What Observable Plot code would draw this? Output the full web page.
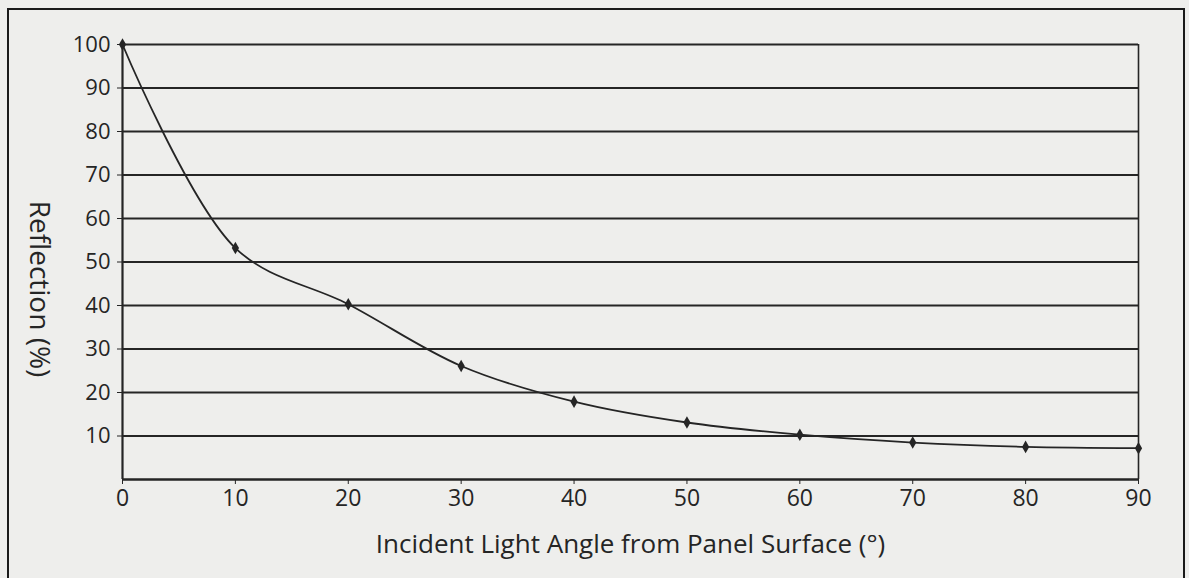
<!DOCTYPE html>
<html>
<head>
<meta charset="utf-8">
<script src="https://cdn.jsdelivr.net/npm/d3@7"></script>
<script src="https://cdn.jsdelivr.net/npm/@observablehq/plot@0.6"></script>
<style>
  html, body { margin: 0; padding: 0; background: #eeeeec; overflow: hidden; }
  #wrap { position: relative; width: 1189px; height: 578px; }
  #border { position: absolute; left: 7px; top: 8px; width: 1178px; height: 600px; border: 2px solid #1a1a1a; box-sizing: border-box; }
  #chart { position: absolute; left: 0; top: 0; }
</style>
</head>
<body>
<div id="wrap"><div id="border"></div><div id="chart"></div></div>
<script>
const angles = [0, 10, 20, 30, 40, 50, 60, 70, 80, 90];
const reflection = [100, 53.2, 40.3, 26.1, 17.9, 13.1, 10.3, 8.5, 7.5, 7.2];
const yTicks = [10, 20, 30, 40, 50, 60, 70, 80, 90, 100];
const xTicks = [0, 10, 20, 30, 40, 50, 60, 70, 80, 90];
const xLabel = "Incident Light Angle from Panel Surface (°)";
const yLabel = "Reflection (%)";

const data = angles.map((a, i) => ({angle: a, value: reflection[i]}));
const ink = "#252525";

const chart = Plot.plot({
  width: 1189,
  height: 578,
  marginLeft: 122,
  marginRight: 51,
  marginTop: 44,
  marginBottom: 99,
  style: {background: "transparent", fontFamily: "'Open Sans', sans-serif", color: ink},
  x: {domain: [0, 90]},
  y: {domain: [0, 100]},
  marks: [
    Plot.ruleY(yTicks, {stroke: ink, strokeWidth: 1.8}),
    Plot.ruleY([0], {stroke: ink, strokeWidth: 2.6}),
    Plot.ruleX([0], {stroke: ink, strokeWidth: 2.2}),
    Plot.ruleX([90], {stroke: ink, strokeWidth: 1.6}),
    Plot.axisY({ticks: yTicks, tickSize: 5, tickPadding: 7, fontSize: 22, label: null, stroke: ink}),
    Plot.axisX({ticks: xTicks, tickSize: 5, tickPadding: 5, fontSize: 23, label: null, stroke: ink}),
    Plot.line(data, {x: "angle", y: "value", curve: "catmull-rom", stroke: ink, strokeWidth: 1.8}),
    Plot.dot(data, {x: "angle", y: "value", symbol: "diamond", r: 3.8, fill: ink}),
    Plot.text([xLabel], {frameAnchor: "bottom", dy: 73, fontSize: 26, fill: ink}),
    Plot.text([yLabel], {frameAnchor: "left", textAnchor: "middle", dx: -84, dy: 27, rotate: 90, fontSize: 28, fill: ink})
  ]
});
document.getElementById("chart").appendChild(chart);
</script>
</body>
</html>
